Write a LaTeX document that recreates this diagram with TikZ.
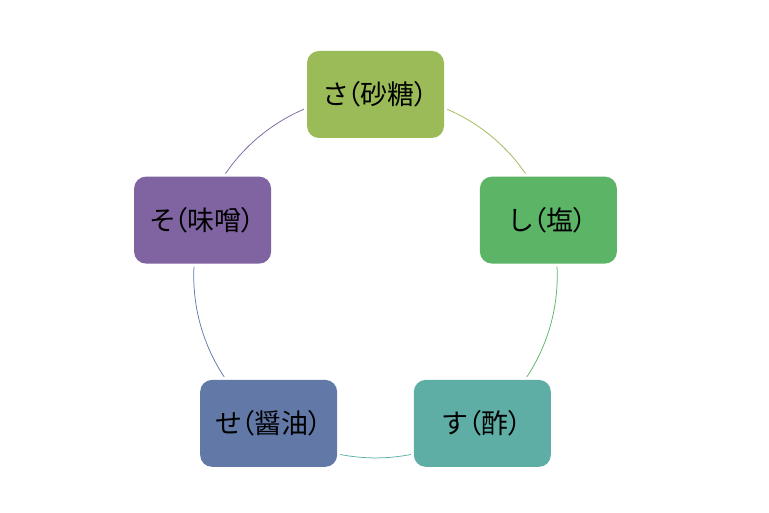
\documentclass[tikz,border=0pt]{standalone}
\usepackage{fontspec}
\newfontfamily\jpfont[RawFeature=+palt]{Noto Sans CJK JP}

\definecolor{sacol}{HTML}{9BBB59}
\definecolor{shicol}{HTML}{5CB566}
\definecolor{sucol}{HTML}{5FAEA5}
\definecolor{secol}{HTML}{6279A7}
\definecolor{socol}{HTML}{8064A2}

\begin{document}
\begin{tikzpicture}[x=1pt, y=1pt
        , every path/.style={ line width=.75pt }
        , box/.style={ rounded corners=12pt, minimum width=137pt, minimum height=87pt, inner sep=0pt
            , font=\jpfont\fontsize{27}{32}\selectfont
            , preaction={draw=white, line width=6pt} }
        ]
        \useasboundingbox (0,0) rectangle (769,513);

    \begin{scope}[shift={(375.5,236.7)}]
        \foreach \n/\a in {sa/90, shi/18, su/-54, se/-126, so/162}
            \coordinate (p\n) at (\a:181.8);

        % circle through the five seasonings, one colour per step
        \path[bend left=36, looseness=.94] (psa) edge[draw=sacol] (pshi)
            (pshi) edge[draw=shicol] (psu)
            (psu) edge[draw=sucol] (pse)
            (pse) edge[draw=secol] (pso)
            (pso) edge[draw=socol] (psa);

        \node[box, fill=sacol] (sa) at (psa) {さ（砂糖）};
        \node[box, fill=shicol] (shi) at (pshi) {し（塩）};
        \node[box, fill=sucol] (su) at (psu) {す（酢）};
        \node[box, fill=secol] (se) at (pse) {せ（醤油）};
        \node[box, fill=socol] (so) at (pso) {そ（味噌）};
    \end{scope}

\end{tikzpicture}
\end{document}
